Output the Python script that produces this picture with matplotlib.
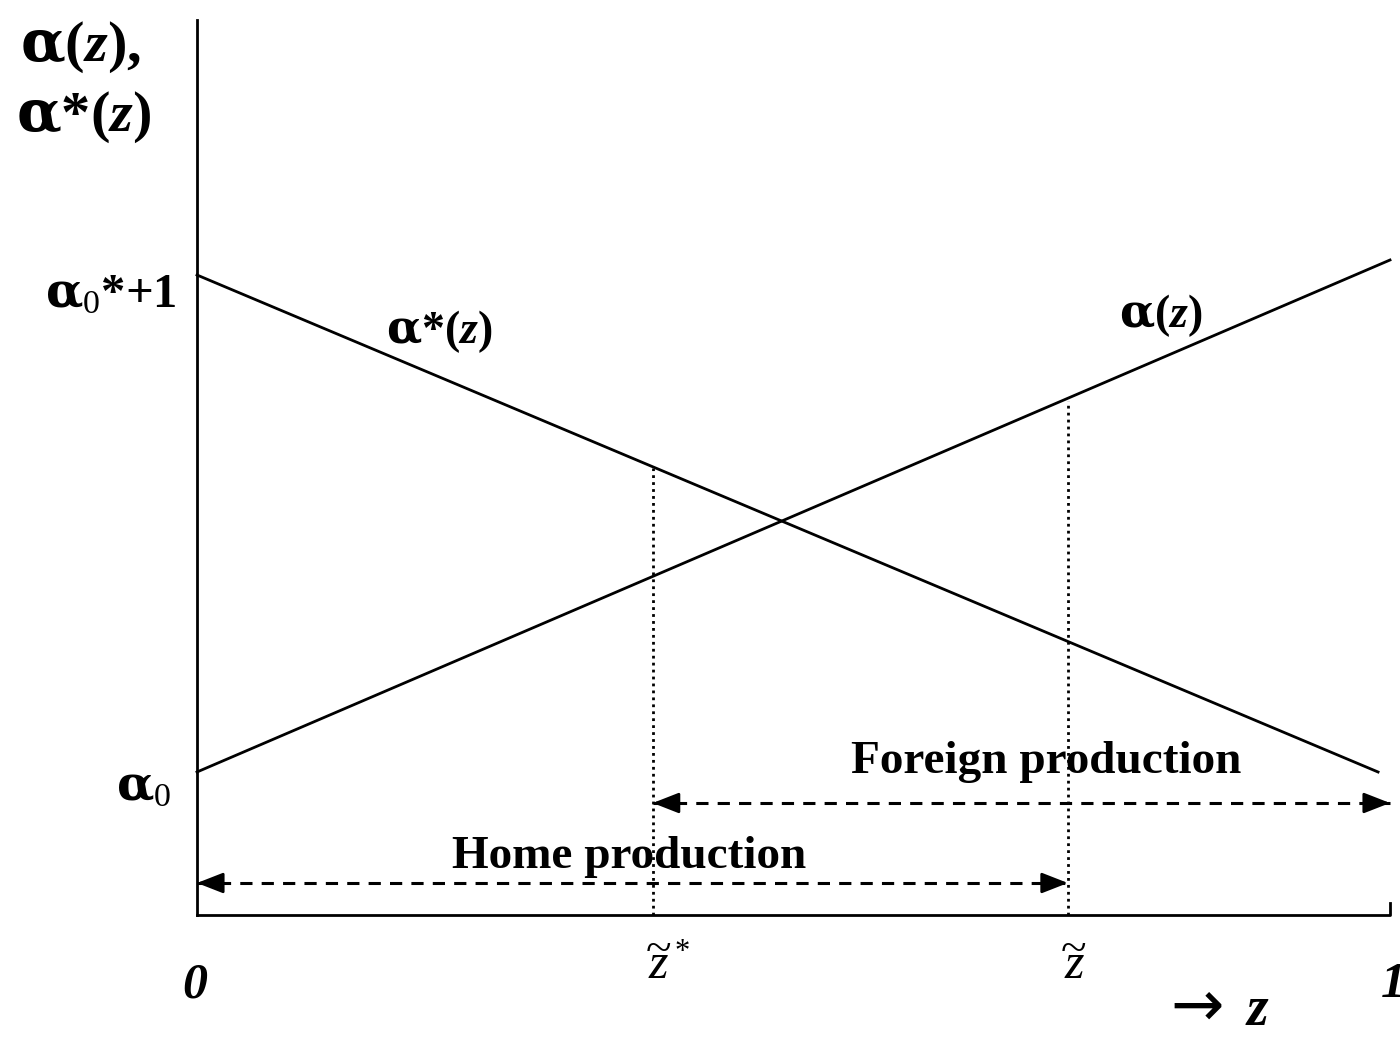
import matplotlib
matplotlib.use("Agg")
import matplotlib.pyplot as plt

# ---- data (z in [0,1], vertical in arbitrary units, axis bottom = 0) ----
z_ends = [0.0, 1.0]
alpha_home = [1.43, 6.55]          # alpha(z)
z_ends_star = [0.0, 0.99]
alpha_foreign = [6.40, 1.43]       # alpha*(z)
z_cut_star, h_cut_star = 0.382, 4.47   # z~*
z_cut, h_cut = 0.730, 5.14             # z~
foreign_span = [0.382, 1.0]
home_span = [0.0, 0.730]
y_foreign, y_home = 1.12, 0.32
y_axis_top = 8.95

plt.rcParams["mathtext.fontset"] = "custom"
plt.rcParams["mathtext.rm"] = "Liberation Serif:bold"
plt.rcParams["mathtext.it"] = "Liberation Serif:italic:bold"
plt.rcParams["mathtext.bf"] = "Liberation Serif:bold"
plt.rcParams["mathtext.sf"] = "Liberation Serif:italic"
plt.rcParams["mathtext.tt"] = "Liberation Serif"
plt.rcParams["mathtext.cal"] = "DejaVu Serif:bold"
plt.rcParams["font.family"] = ["Liberation Serif", "DejaVu Sans"]

fig = plt.figure(figsize=(14, 10.38), dpi=100)
ax = fig.add_axes([0, 0, 1, 1])
ax.set_xlim(-197 / 1193, 1203 / 1193)
ax.set_ylim(-1.23, 9.15)
ax.axis("off")

# axes
ax.plot([0, 0], [0, y_axis_top], color="black", lw=2)
ax.plot([0, 1, 1], [0, 0, 0.12], color="black", lw=2)

# curves
ax.plot(z_ends, alpha_home, color="black", lw=2)
ax.plot(z_ends_star, alpha_foreign, color="black", lw=2)

# cutoffs
ax.plot([z_cut_star, z_cut_star], [0, h_cut_star], color="black", lw=2, ls=(0, (1, 1.5)))
ax.plot([z_cut, z_cut], [0, h_cut], color="black", lw=2, ls=(0, (1, 1.5)))

# production ranges: dashed shaft + solid heads
head_kw = dict(arrowstyle="-|>,head_length=1.15,head_width=0.45", color="black",
               lw=2, shrinkA=0, shrinkB=0, mutation_scale=14)
for span, yv in [(foreign_span, y_foreign), (home_span, y_home)]:
    ax.plot(span, [yv, yv], color="black", lw=2.2, ls=(0, (4, 3)))
    ax.annotate("", xy=(span[1], yv), xytext=(span[1] - 0.01, yv), arrowprops=head_kw)
    ax.annotate("", xy=(span[0], yv), xytext=(span[0] + 0.01, yv), arrowprops=head_kw)

bold = dict(fontweight="bold", fontsize=34)
ax.text(0.712, 1.53, "Foreign production", ha="center", va="center", **bold)
ax.text(0.362, 0.58, "Home production", ha="center", va="center", **bold)

# labels
A = r"\mathcal{α}"
ax.text(-0.098, 8.68, rf"${A}(z),$", ha="center", va="center", fontsize=42)
ax.text(-0.095, 7.98, rf"${A}{{*}}(z)$", ha="center", va="center", fontsize=42)
ax.text(-0.072, 6.20, rf"${A}_{{\mathtt{{0}}}}{{*}}{{+}}\mathrm{{1}}$", ha="center", va="center", fontsize=35)
ax.text(-0.045, 1.27, rf"${A}_{{\mathtt{{0}}}}$", ha="center", va="center", fontsize=35)
ax.text(0.203, 5.83, rf"${A}{{*}}(z)$", ha="center", va="center", fontsize=33)
ax.text(0.808, 5.99, rf"${A}(z)$", ha="center", va="center", fontsize=33)

# ticks
ax.text(-0.002, -0.70, "0", ha="center", va="center", fontsize=36, fontweight="bold", style="italic")
ax.text(0.992, -0.70, "1", ha="left", va="center", fontsize=36, fontweight="bold", style="italic")
for zc, star in [(z_cut_star, True), (z_cut, False)]:
    ax.text(zc + 0.005, -0.63, "z", ha="center", va="baseline", fontsize=36, style="italic")
    ax.text(zc + 0.005, -0.47, "~", ha="center", va="baseline", fontsize=34)
    if star:
        ax.text(zc + 0.0245, -0.45, "*", ha="center", va="baseline", fontsize=22)
ax.text(0.838, -1.11, "→", ha="center", va="baseline", fontsize=46, family="DejaVu Sans")
ax.text(0.889, -1.10, "z", ha="center", va="baseline", fontsize=40, fontweight="bold", style="italic")

fig.savefig("out.png", dpi=100)
